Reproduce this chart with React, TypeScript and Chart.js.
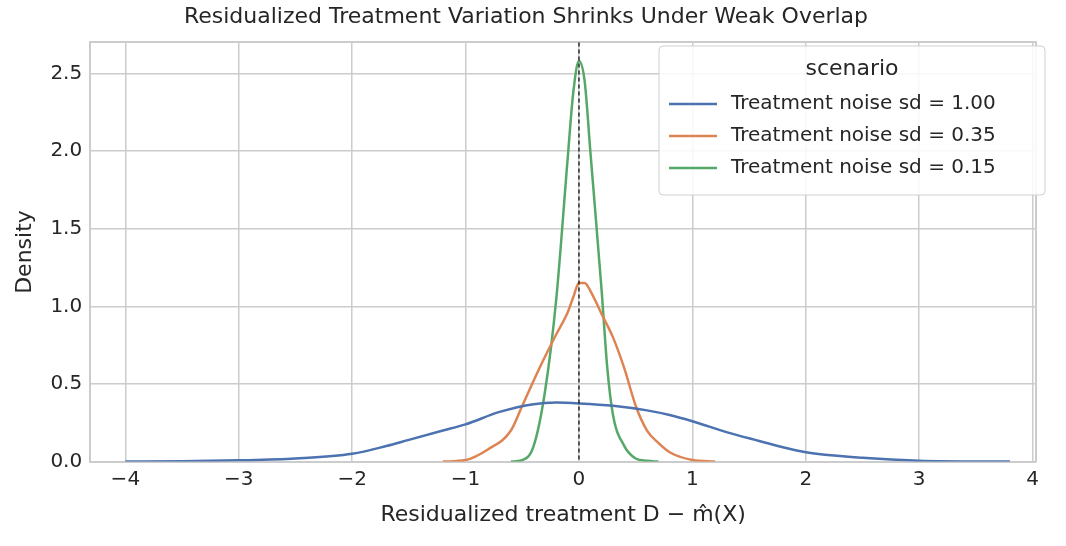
import React, { useEffect, useRef } from "react";
import { Chart, registerables } from "chart.js";
Chart.register(...registerables);

const blueX = [-4, -3.5, -3, -2.5, -2, -1.7, -1.5, -1.2, -1, -0.7, -0.4, -0.2, 0, 0.3, 0.6, 0.8, 1, 1.3, 1.5, 2, 2.5, 3, 3.8];
const blueY = [0, 0.002, 0.008, 0.02, 0.05, 0.1, 0.14, 0.2, 0.24, 0.32, 0.37, 0.38, 0.375, 0.36, 0.33, 0.3, 0.26, 0.19, 0.15, 0.06, 0.025, 0.006, 0];
const orangeX = [-1.2, -1, -0.8, -0.6, -0.5, -0.35, -0.2, -0.1, -0.05, 0, 0.05, 0.1, 0.2, 0.3, 0.4, 0.5, 0.6, 0.7, 0.8, 1.0, 1.2];
const orangeY = [0, 0.01, 0.08, 0.2, 0.36, 0.6, 0.82, 0.96, 1.06, 1.15, 1.15, 1.1, 0.95, 0.8, 0.6, 0.36, 0.2, 0.12, 0.06, 0.01, 0];
const greenX = [-0.6, -0.5, -0.4, -0.3, -0.2, -0.1, -0.05, 0, 0.05, 0.1, 0.2, 0.25, 0.3, 0.4, 0.5, 0.6, 0.7];
const greenY = [0, 0.01, 0.1, 0.45, 1.05, 1.95, 2.38, 2.58, 2.45, 2.0, 1.1, 0.6, 0.3, 0.1, 0.02, 0.005, 0];
const labels = ["Treatment noise sd = 1.00", "Treatment noise sd = 0.35", "Treatment noise sd = 0.15"];
const colors = ["#4c72b0", "#dd8452", "#55a868"];
const FONT = "'DejaVu Sans', sans-serif";

const pts = (xs: number[], ys: number[]) => xs.map((x, i) => ({ x, y: ys[i] }));

export default function App() {
  const ref = useRef<HTMLCanvasElement>(null);
  useEffect(() => {
    document.body.style.margin = "0";
    const extras = {
      id: "extras",
      afterDatasetsDraw(chart: any) {
        const { ctx, scales, chartArea } = chart;
        const x0 = scales.x.getPixelForValue(0);
        ctx.save();
        ctx.strokeStyle = "#000";
        ctx.lineWidth = 1.2;
        ctx.setLineDash([4, 3]);
        ctx.beginPath();
        ctx.moveTo(x0, chartArea.top);
        ctx.lineTo(x0, chartArea.bottom);
        ctx.stroke();
        ctx.setLineDash([]);
        const bx = 659, by = 46, bw = 386, bh = 149;
        ctx.fillStyle = "rgba(255,255,255,0.85)";
        ctx.strokeStyle = "#d0d0d0";
        ctx.lineWidth = 1;
        ctx.beginPath();
        ctx.roundRect(bx, by, bw, bh, 4);
        ctx.fill();
        ctx.stroke();
        ctx.fillStyle = "#262626";
        ctx.font = `22px ${FONT}`;
        ctx.textAlign = "center";
        ctx.textBaseline = "middle";
        ctx.fillText("scenario", bx + bw / 2, by + 23);
        ctx.font = `20px ${FONT}`;
        ctx.textAlign = "left";
        labels.forEach((l, i) => {
          const yy = by + 58 + i * 32;
          ctx.strokeStyle = colors[i];
          ctx.lineWidth = 2.5;
          ctx.beginPath();
          ctx.moveTo(bx + 10, yy);
          ctx.lineTo(bx + 58, yy);
          ctx.stroke();
          ctx.fillText(l, bx + 72, yy);
        });
        ctx.restore();
      },
    };
    const chart = new Chart(ref.current!, {
      type: "line",
      data: {
        datasets: [
          { data: pts(blueX, blueY), borderColor: colors[0] },
          { data: pts(orangeX, orangeY), borderColor: colors[1] },
          { data: pts(greenX, greenY), borderColor: colors[2] },
        ].map((d) => ({ ...d, borderWidth: 2.5, pointRadius: 0, tension: 0.4, cubicInterpolationMode: "monotone" as const, fill: false })),
      },
      options: {
        animation: false,
        responsive: false,
        layout: { padding: { left: 8, right: 22, top: 0, bottom: 14 } },
        plugins: {
          legend: { display: false },
          tooltip: { enabled: false },
          title: { display: true, text: "Residualized Treatment Variation Shrinks Under Weak Overlap", color: "#262626", font: { family: FONT, size: 22, weight: "normal" }, padding: { top: 4, bottom: 4 } },
        },
        scales: {
          x: {
            type: "linear", min: -4.31, max: 4.03,
            afterBuildTicks: (s: any) => { s.ticks = [-4, -3, -2, -1, 0, 1, 2, 3, 4].map((v) => ({ value: v })); },
            ticks: { color: "#262626", font: { family: FONT, size: 20 }, padding: 6, callback: (v: any) => String(v).replace("-", "−") },
            grid: { color: "#cccccc", lineWidth: 1.5, drawTicks: false },
            border: { color: "#cccccc", width: 2 },
            title: { display: true, text: "Residualized treatment D − m̂(X)", color: "#262626", font: { family: FONT, size: 22 } },
          },
          y: {
            min: 0, max: 2.7,
            afterBuildTicks: (s: any) => { s.ticks = [0, 0.5, 1, 1.5, 2, 2.5].map((v) => ({ value: v })); },
            ticks: { color: "#262626", font: { family: FONT, size: 20 }, callback: (v: any) => Number(v).toFixed(1), padding: 8 },
            grid: { color: "#cccccc", lineWidth: 1.5, drawTicks: false },
            border: { color: "#cccccc", width: 2 },
            title: { display: true, text: "Density", color: "#262626", font: { family: FONT, size: 22 } },
          },
          x2: { position: "top", display: true, ticks: { display: false }, grid: { display: false }, border: { color: "#cccccc", width: 2 } } as any,
          y2: { position: "right", display: true, ticks: { display: false }, grid: { display: false }, border: { color: "#cccccc", width: 2 } } as any,
        },
      } as any,
      plugins: [extras],
    });
    return () => chart.destroy();
  }, []);
  return <canvas ref={ref} width={1066} height={546} />;
}
